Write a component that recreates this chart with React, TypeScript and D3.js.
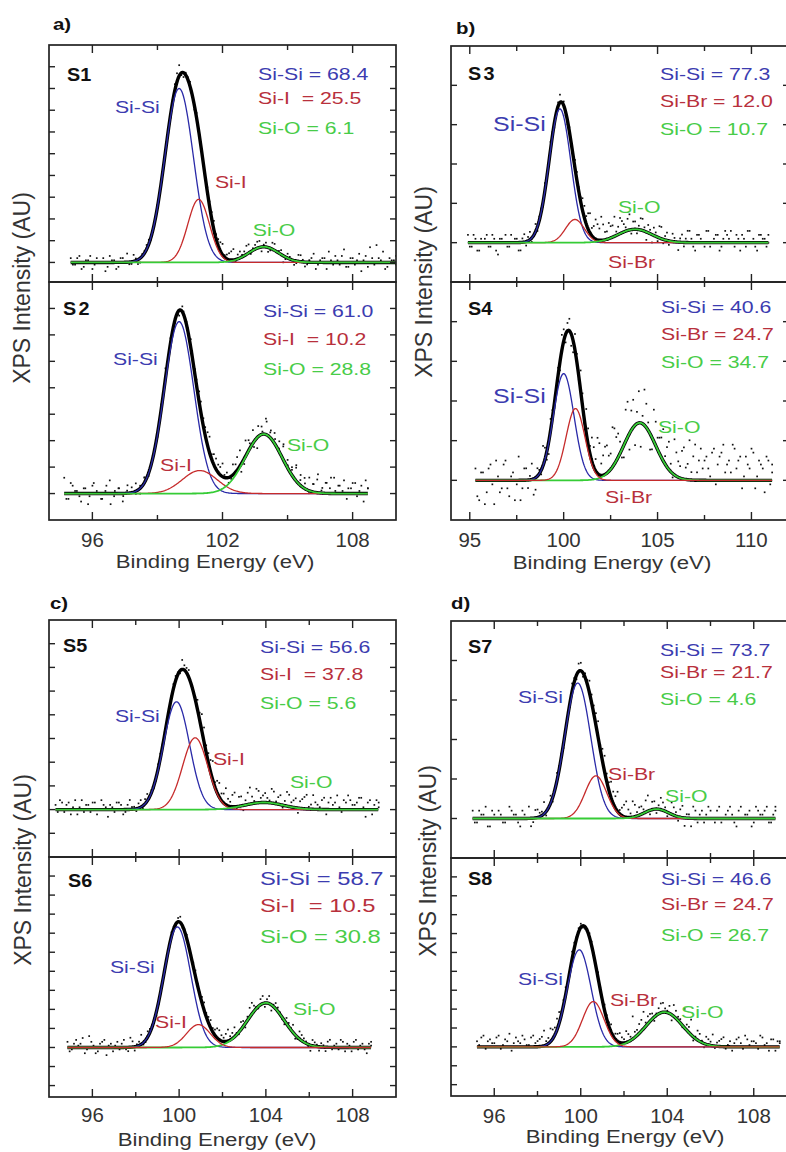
import React from 'react';
import * as d3 from 'd3';

// ---------------- DATA ----------------
const sampleNames = ['S1', 'S2', 'S3', 'S4', 'S5', 'S6', 'S7', 'S8'];
const halogenNames = ['Si-I', 'Si-I', 'Si-Br', 'Si-Br', 'Si-I', 'Si-I', 'Si-Br', 'Si-Br'];
const siSiPct = [68.4, 61.0, 77.3, 40.6, 56.6, 58.7, 73.7, 46.6];
const siXPct = [25.5, 10.2, 12.0, 24.7, 37.8, 10.5, 21.7, 24.7];
const siOPct = [6.1, 28.8, 10.7, 34.7, 5.6, 30.8, 4.6, 26.7];

// fitted components: [centre (eV), height (axis tick units), sigma (eV)]
const siSiPeaks = [[100.0, 8.0, 0.66], [100.0, 6.5, 0.68], [99.8, 3.4, 0.58], [100.0, 2.69, 0.55], [99.88, 4.55, 0.6], [99.92, 6.33, 0.62], [99.86, 3.43, 0.6], [99.93, 5.14, 0.55]];
const siXPeaks = [[100.9, 2.9, 0.5], [100.95, 0.87, 0.8], [100.6, 0.59, 0.5], [100.63, 1.81, 0.5], [100.74, 3.03, 0.58], [100.89, 1.2, 0.55], [100.7, 1.08, 0.5], [100.58, 2.4, 0.5]];
const siOPeaks = [[103.9, 0.72, 0.69], [103.9, 2.25, 0.85], [103.8, 0.34, 0.9], [104.05, 1.45, 0.85], [103.9, 0.3, 0.9], [104.0, 2.34, 0.85], [103.5, 0.24, 0.55], [103.87, 1.84, 0.85]];

// measured energy span of each spectrum (eV)
const dataRanges = [[95.0, 110.0], [94.7, 108.7], [94.9, 110.9], [95.3, 111.1], [94.3, 109.2], [94.85, 108.85], [95.0, 109.0], [95.2, 109.2]];

const residualsS1 = [2,-1,3,-2,1,-3,2,0,-4,3,1,-2,2,4,-1,1,-2,1,2,-1,1,-1,2,-1,3,5,-2,1,-1,2,1,-1,2,4,3,5,2,4,-1,3,2,4,1,3,-2,2,-1,3,1,-3,2,0,-1,3,-2,1,4,-1,2,-3,1,3,-1,6,-2,2,1,-4,3,7,-1,2,5,-2,1,3];
const residualsS2 = [6,-2,3,1,-3,2,-1,4,0,-2,3,-4,1,2,-1,3,2,-1,1,2,-1,1,0,2,4,-1,1,-1,2,1,3,2,4,3,5,2,4,3,1,-2,4,5,-3,6,2,-2,4,1,5,3,2,4,6,1,3,5,2,4,-1,3,5,1,4,2,6,3,1,-2,2,4,1,-3,2];
const residualsS3 = [2,-1,1,-2,0,2,-1,1,-3,1,2,-1,0,1,-2,2,1,-1,2,1,-1,1,2,-1,1,0,-1,1,-1,2,1,3,4,2,5,3,4,2,3,5,2,3,1,4,2,-1,3,1,2,-2,1,3,-1,2,0,1,-2,2,1,3,-1,2,1,-1,3,0,2,-2,1,2,3,-1,1,2,-1,3,1,-2,2,1,0];
const residualsS4 = [3,-5,2,-3,4,-6,1,-2,5,-4,2,-1,-5,3,-2,4,-3,1,5,-2,3,-1,2,4,-2,3,-3,2,5,-1,4,6,3,8,5,7,4,9,6,-2,8,-4,7,3,-6,9,2,-3,6,4,8,5,2,9,4,7,3,10,6,2,8,5,3,7,-1,6,9,4,2,8,5,-2,6,3,7,1,4,-3,5,2];
const residualsS5 = [2,4,-1,3,1,-2,4,2,-1,3,0,2,-3,1,3,2,-1,4,1,2,-1,3,1,-1,2,1,-1,2,1,4,2,-1,1,3,6,4,8,5,3,7,2,6,4,-2,5,3,6,2,4,1,5,3,-1,6,2,4,3,5,1,6,2,4,-2,5,3,1,4,6,2,3,5,-3,4,2,1];
const residualsS6 = [3,-1,4,2,-3,6,1,-2,3,-4,2,1,-1,4,-2,3,1,5,-1,2,1,-1,2,0,2,-1,3,1,-1,2,1,3,2,4,3,5,2,6,3,1,4,-2,5,3,-1,4,2,-3,3,1,-2,2,4,-1,3,1,-3,2,-2,1,3,-1,2,4,-2,1,3,-1,2,-3,1];
const residualsS7 = [2,-1,1,3,-2,1,2,-1,0,2,1,-2,1,3,-1,2,1,-1,2,0,1,-1,1,2,-1,2,1,3,2,4,3,2,4,3,1,3,2,4,1,2,3,-1,2,1,2,-1,3,1,2,-2,1,3,-1,2,1,2,-1,3,0,2,1,-2,3,1,2,-1,2,1,3,-1,2];
const residualsS8 = [3,5,-1,4,2,6,1,3,-2,5,2,4,1,6,3,5,2,7,4,6,3,2,4,1,2,-1,2,1,3,-1,2,4,3,5,2,4,12,3,6,2,4,-2,3,5,1,-3,4,2,10,3,-2,5,1,4,2,-1,3,5,1,-2,4,2,6,1,3,-1,5,2,4,-2,3];
const residualsS1b = [-1,2,-3,1,3,-1,0,2,-2,1,-3,2,0,-1,3,-2,1,2,-1,1,0,2,-1,1,4,-1,1,2,-2,1,0,2,3,2,4,1,3,5,2,1,4,-1,2,3,1,-2,3,0,2,-1,1,-2,3,1,-1,2,-3,1,2,5,-1,1,3,-2,2,-1,4,1,-2,2,8,1,-3,2,1,-1];
const residualsS2b = [-2,4,1,-1,2,-4,3,1,-2,1,5,-1,2,-3,1,0,3,-2,2,1,0,-1,1,-1,2,1,-2,1,1,2,2,4,3,6,4,3,5,2,-1,3,6,-2,4,5,-4,3,6,2,4,1,5,3,2,6,4,2,5,3,7,2,4,6,1,3,5,2,4,-1,3,5,2];
const residualsS3b = [-1,2,-2,1,1,-1,2,-2,1,0,-1,2,1,-2,1,-1,2,0,-1,1,2,0,1,-1,2,1,-1,0,2,1,3,2,5,3,4,6,2,4,3,1,4,2,3,-1,2,1,3,-2,1,2,-1,3,1,-1,2,0,1,-1,3,1,-2,2,0,3,-1,1,2,-1,3,1,0,2,-2,1,3,0,-1,2,1,-1,2];
const residualsS4b = [-4,2,-6,3,-1,5,-3,4,-2,1,-5,6,-2,3,1,-4,2,-1,3,-3,2,1,-2,3,2,-3,4,-1,3,6,2,5,9,3,7,4,10,6,3,-3,9,5,-5,8,2,6,-4,8,3,5,2,7,-1,6,3,8,4,2,9,5,3,6,1,8,4,7,2,5,9,3,6,1,4,8,-2,5,3,6,-1,4];
const residualsS5b = [-1,3,2,-2,4,1,-1,2,3,-2,4,1,2,-1,3,-2,2,1,-1,3,2,0,-1,2,1,-1,1,2,-1,2,3,1,4,7,3,5,2,6,4,3,5,-1,4,2,7,1,5,3,2,6,1,4,2,5,3,-2,4,6,2,3,1,5,3,2,6,-1,3,4,2,5,1,3,-2,4,3];
const residualsS6b = [-2,2,1,5,-1,3,-3,2,4,1,-2,3,2,-1,5,-2,2,-1,3,1,-2,2,1,-1,1,2,-1,2,0,3,1,4,3,2,5,3,4,2,5,-1,3,2,6,1,3,-2,4,1,2,-1,3,1,-2,4,2,-1,3,1,2,-2,4,1,-1,3,2,-2,4,1,-1,2,3];
const residualsS7b = [-1,2,1,-2,2,0,1,-1,3,1,-1,2,0,-2,2,1,3,0,-1,2,1,0,-1,1,2,-1,1,2,3,1,4,2,3,5,2,4,1,3,2,1,4,2,-1,3,1,0,2,-1,3,1,-2,2,1,-1,3,0,2,-1,1,3,-1,2,0,1,-2,3,1,2,-1,1,3];
const residualsS8b = [1,6,3,2,5,-1,4,7,2,3,6,1,5,2,4,8,3,5,6,2,4,1,3,2,-1,1,2,-2,1,3,2,1,4,3,6,2,3,5,9,4,3,1,5,2,4,6,2,-1,3,8,1,4,-2,3,6,2,4,-1,3,2,5,-1,4,3,2,6,1,-2,4,3,2];
const residuals = [residualsS1, residualsS2, residualsS3, residualsS4, residualsS5, residualsS6, residualsS7, residualsS8];
const residualsB = [residualsS1b, residualsS2b, residualsS3b, residualsS4b, residualsS5b, residualsS6b, residualsS7b, residualsS8b];

// tick labels
const xTickLabelsA = [96, 102, 108];
const xTickLabelsB = [95, 100, 105, 110];
const xTickLabelsC = [96, 100, 104, 108];
const xTickLabelsD = [96, 100, 104, 108];
const panelLetters = ['a)', 'b)', 'c)', 'd)'];

// peak label anchors (data coordinates: eV, tick units)
const siSiLabelAt = [[97.04, 6.87], [96.95, 4.86], [96.24, 2.83], [96.24, 1.94], [97.04, 3.69], [96.81, 3.9], [97.1, 2.92], [97.1, 3.27]];
const siXLabelAt = [[101.65, 3.42], [99.12, 0.85], [102.36, -0.64], [102.2, -0.58], [101.56, 1.88], [98.89, 1.0], [101.26, 0.97], [101.35, 2.15]];
const siOLabelAt = [[103.4, 1.21], [104.97, 1.61], [102.89, 0.75], [105.02, 1.19], [105.11, 0.9], [105.25, 1.69], [103.9, 0.42], [104.64, 1.52]];

// ---------------- LAYOUT / STYLE ----------------
const groups = [
  { x0: 49, x1: 396, xDomain: [94, 110], tickStart: 96, tickStep: 3, tickEnd: 108, labels: xTickLabelsA, tops: [45, 282, 520], yDomains: [[-0.9, 10], [-1, 8]], samples: [0, 1], letterX: 53, letterY: 30, tickLabelY: 547, titleX: 215, titleY: 568, yTitleX: 22, yTitleY: 288 },
  { x0: 451, x1: 789, xDomain: [94, 112], tickStart: 95, tickStep: 2.5, tickEnd: 110, labels: xTickLabelsB, tops: [46, 282, 520], yDomains: [[-1, 5], [-1, 5]], samples: [2, 3], letterX: 456, letterY: 34, tickLabelY: 547, titleX: 612, titleY: 569, yTitleX: 424, yTitleY: 282 },
  { x0: 49, x1: 396, xDomain: [94, 110], tickStart: 96, tickStep: 2, tickEnd: 108, labels: xTickLabelsC, tops: [620, 857, 1097], yDomains: [[-2, 8], [-2.6, 10]], samples: [4, 5], letterX: 50, letterY: 609, tickLabelY: 1122, titleX: 217, titleY: 1146, yTitleX: 23, yTitleY: 870 },
  { x0: 451, x1: 797, xDomain: [94, 110], tickStart: 96, tickStep: 2, tickEnd: 108, labels: xTickLabelsD, tops: [621, 858, 1096], yDomains: [[-1, 5], [-2.6, 10]], samples: [6, 7], letterX: 451, letterY: 609, tickLabelY: 1123, titleX: 625, titleY: 1143, yTitleX: 428, yTitleY: 861 },
];

const sampleLabelOff = [[18, 36], [14, 33], [17, 34], [17, 33], [14, 32], [19, 30], [17, 32], [17, 27]];
const compXOff = [209, 214, 209, 210, 211, 211, 209, 210];
const compYOff = [[35, 59, 89], [35, 63, 93], [34, 61, 89], [31, 58, 86], [33, 60, 89], [28, 55, 86], [35, 57, 84], [27, 52, 83]];
const compFont = [17, 17, 17, 17, 17, 19, 17, 17];
const siSiLabelFont = [17, 17, 20, 20, 17, 17, 17, 17];
const redOnTop = [false, false, false, true, false, true, false, true];

const BLUE_L = '#2a2aa8';
const RED_L = '#c62b2b';
const GREEN_L = '#36cc36';
const BLUE_T = '#3c3cb0';
const RED_T = '#b8303c';
const GREEN_T = '#48cc48';
const FONT = "'Liberation Sans', Arial, Helvetica, sans-serif";
const SX = 1.25;

type Peak = number[];
const gauss = (p: Peak, e: number) => p[1] * Math.exp(-((e - p[0]) ** 2) / (2 * p[2] * p[2]));

function STxt({ x, y, sx = SX, size, fill, weight, children, anchor = 'start', ls }: any) {
  return (
    <text
      transform={`translate(${x},${y}) scale(${sx},1)`}
      fontSize={size}
      fill={fill}
      fontWeight={weight}
      textAnchor={anchor}
      letterSpacing={ls}
      style={{ whiteSpace: 'pre' }}
    >
      {children}
    </text>
  );
}

function SubPanel({ g, k }: any) {
  const s = g.samples[k];
  const top = g.tops[k];
  const bottom = g.tops[k + 1];
  const x = d3.scaleLinear().domain(g.xDomain).range([g.x0, g.x1]);
  const y = d3.scaleLinear().domain(g.yDomains[k]).range([bottom, top]);
  const comps = [siSiPeaks[s], siXPeaks[s], siOPeaks[s]];
  const total = (e: number) => comps.reduce((a, p) => a + gauss(p, e), 0);
  const [lo, hi] = dataRanges[s];
  const grid = d3.range(lo, hi + 1e-9, 0.04);
  const line = d3.line<number[]>().x((d) => x(d[0])).y((d) => y(d[1]));
  const toDots = (res: number[], shift: number) => {
    const step = (hi - lo) / (res.length - 1);
    return res.map((r, i) => {
      const e = Math.min(hi, lo + i * step + shift * step);
      return [e, total(e) + r / 10];
    });
  };
  const dots = [...toDots(residuals[s], 0), ...toDots(residualsB[s], 0.5)];
  const envelope = line(grid.map((e) => [e, total(e)]));
  const compPath = (p: Peak) => line(grid.map((e) => [e, gauss(p, e)]));
  const clipId = `clip-${s}`;
  const xt = d3.range(g.tickStart, g.tickEnd + 1e-9, g.tickStep);
  const yd = g.yDomains[k];
  const yt = d3.range(Math.ceil(yd[0] + 0.05), Math.floor(yd[1] - 0.05) + 1);
  const fc = [BLUE_L, RED_L, GREEN_L];
  const order = redOnTop[s] ? [0, 2, 1] : [0, 1, 2];
  const xName = halogenNames[s];
  const compTexts = [
    { t: `Si-Si = ${siSiPct[s].toFixed(1)}`, c: BLUE_T },
    { t: `${xName}${xName === 'Si-I' ? '  ' : ' '}= ${siXPct[s].toFixed(1)}`, c: RED_T },
    { t: `Si-O = ${siOPct[s].toFixed(1)}`, c: GREEN_T },
  ];
  return (
    <g>
      <defs>
        <clipPath id={clipId}>
          <rect x={g.x0} y={top} width={g.x1 - g.x0} height={bottom - top} />
        </clipPath>
      </defs>
      <g clipPath={`url(#${clipId})`}>
        {dots.map((d, i) => (
          <rect key={i} x={x(d[0]) - 0.8} y={y(d[1]) - 0.8} width={1.7} height={1.7} fill="#111" />
        ))}
        <path d={envelope || ''} fill="none" stroke="#000" strokeWidth={3.4} strokeLinejoin="round" />
        {order.map((ci) => (
          <path key={ci} d={compPath(comps[ci]) || ''} fill="none" stroke={fc[ci]} strokeWidth={ci === 2 ? 1.8 : 1.3} />
        ))}
      </g>
      {xt.map((v) => {
        const major = g.labels.some((l: number) => Math.abs(l - v) < 1e-6);
        const len = major ? 8 : 5;
        return (
          <g key={'xt' + v}>
            <line x1={x(v)} x2={x(v)} y1={top} y2={top + len} stroke="#222" strokeWidth={1.4} />
            <line x1={x(v)} x2={x(v)} y1={bottom} y2={bottom - len} stroke="#222" strokeWidth={1.4} />
          </g>
        );
      })}
      {yt.map((v) => (
        <g key={'yt' + v}>
          <line x1={g.x0} x2={g.x0 + 6} y1={y(v)} y2={y(v)} stroke="#222" strokeWidth={1.4} />
          <line x1={g.x1} x2={g.x1 - 6} y1={y(v)} y2={y(v)} stroke="#222" strokeWidth={1.4} />
        </g>
      ))}
      <rect x={g.x0} y={top} width={g.x1 - g.x0} height={bottom - top} fill="none" stroke="#222" strokeWidth={1.7} />
      <STxt x={g.x0 + sampleLabelOff[s][0]} y={top + sampleLabelOff[s][1]} sx={1.1} size={18} weight="bold" fill="#111" ls={s === 1 || s === 2 ? 2 : 0}>
        {sampleNames[s]}
      </STxt>
      {compTexts.map((c, i) => (
        <STxt key={i} x={g.x0 + compXOff[s]} y={top + compYOff[s][i]} size={compFont[s]} fill={c.c}>
          {c.t}
        </STxt>
      ))}
      <STxt x={x(siSiLabelAt[s][0])} y={y(siSiLabelAt[s][1])} size={siSiLabelFont[s]} fill={BLUE_T}>Si-Si</STxt>
      <STxt x={x(siXLabelAt[s][0])} y={y(siXLabelAt[s][1])} size={17} fill={RED_T}>{xName}</STxt>
      <STxt x={x(siOLabelAt[s][0])} y={y(siOLabelAt[s][1])} size={17} fill={GREEN_T}>Si-O</STxt>
    </g>
  );
}

function Group({ g, gi }: any) {
  const x = d3.scaleLinear().domain(g.xDomain).range([g.x0, g.x1]);
  return (
    <g>
      <SubPanel g={g} k={0} />
      <SubPanel g={g} k={1} />
      {g.labels.map((v: number) => (
        <STxt key={v} x={x(v)} y={g.tickLabelY} sx={1.05} size={19.5} fill="#333" anchor="middle">
          {String(v)}
        </STxt>
      ))}
      <STxt x={g.titleX} y={g.titleY} sx={1.2} size={18.5} fill="#333" anchor="middle">
        Binding Energy (eV)
      </STxt>
      <text
        transform={`translate(${g.yTitleX},${g.yTitleY}) rotate(-90)`}
        fontSize={23}
        fill="#333"
        textAnchor="middle"
        dominantBaseline="central"
      >
        XPS Intensity (AU)
      </text>
      <STxt x={g.letterX} y={g.letterY} sx={1.2} size={17} weight="bold" fill="#111">
        {panelLetters[gi]}
      </STxt>
    </g>
  );
}

export default function App() {
  return (
    <svg
      width={786}
      height={1152}
      style={{ position: 'absolute', left: 0, top: 0, background: '#fff' }}
      fontFamily={FONT}
    >
      <rect x={0} y={0} width={786} height={1152} fill="#fff" />
      {groups.map((g, gi) => (
        <Group key={gi} g={g} gi={gi} />
      ))}
    </svg>
  );
}
